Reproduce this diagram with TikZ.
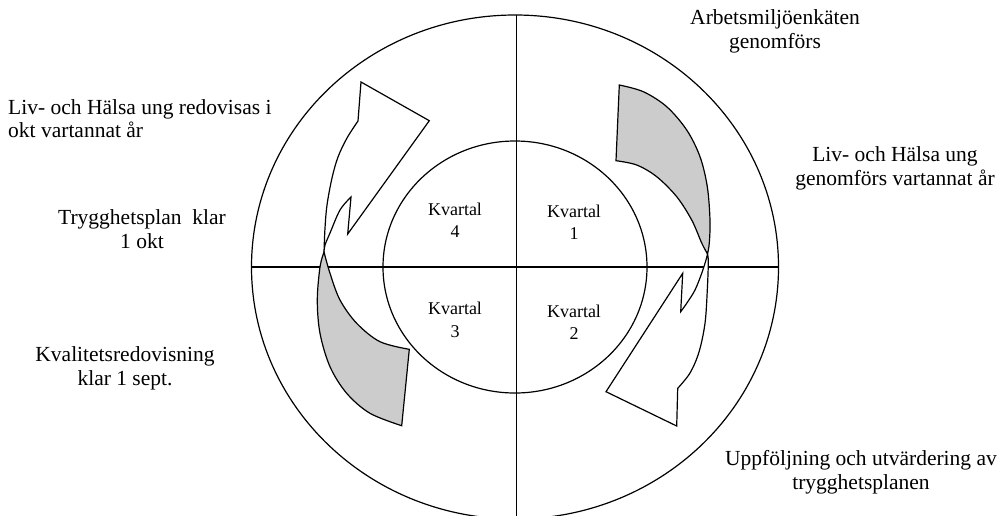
\documentclass[tikz,border=0pt]{standalone}
\usepackage{fontspec}
\setmainfont{Liberation Serif}
\definecolor{bandgray}{gray}{0.8}
\begin{document}
\begin{tikzpicture}[x=1pt,y=-1pt,
  lbl/.style={font=\fontsize{18}{22.5}\selectfont, align=center, inner sep=0pt},
  olbl/.style={font=\fontsize{21.5}{23.5}\selectfont, align=center, inner sep=0pt},
  olbll/.style={font=\fontsize{21.5}{23.5}\selectfont, align=left, inner sep=0pt, anchor=west},
  shp/.style={draw=black, line width=1.2pt, line join=miter},
  arr/.style={shp, fill=white},
  band/.style={shp, fill=bandgray},
  sm/.style={smooth, tension=0.55}]
\useasboundingbox (0,0) rectangle (998,515);
\clip (0,0) rectangle (998,515);
\fill[white] (0,0) rectangle (998,515);
% circles and axes
\draw[shp] (515,267) ellipse [x radius=263.5, y radius=252];
\draw[shp] (515,267) ellipse [x radius=132, y radius=126];
\draw[shp] (516.5,15) -- (516.5,516);
\draw[shp] (251,267) -- (778.5,267);
% Q4 white arrow
\draw[arr] plot[sm] coordinates {(324,252) (325,245) (330,233) (340,210) (351,197)}
  -- (347.7,234) -- (429.3,120.7) -- (361,82) -- (358,121)
  -- plot[sm] coordinates {(358,121) (347,138) (338,157) (332,178) (327,205) (325,228) (324,252)} -- cycle;
% Q3 gray band
\draw[band] plot[sm] coordinates {(324,252) (320,267) (317.3,300) (320,333.3) (330,366.7) (346.7,393.3) (370,413.3) (401.7,425.7)}
  -- (409.3,349.3)
  -- plot[sm] coordinates {(409.3,349.3) (380,341.7) (356.7,323.3) (340,300) (330,273.3) (324,252)} -- cycle;
% Q1 gray band
\draw[band] plot[sm] coordinates {(619.3,85) (643.3,91.7) (666.7,106.7) (686.7,130) (700,156.7) (707.3,186.7) (710,220) (709.3,243) (707.5,254)}
  -- plot[sm] coordinates {(707.5,254) (701.7,243) (691.7,220) (676.7,196.7) (656.7,176.7) (636.7,165) (616,160.7)} -- cycle;
% Q2 white arrow
\draw[arr] plot[sm] coordinates {(707.5,254) (708.3,262) (707.3,290) (705,323.3) (699,352) (690,373) (677.7,388.3)}
  -- (676.7,426) -- (606,391.7) -- (682.7,273.3) -- (680.7,311.7)
  -- plot[sm] coordinates {(680.7,311.7) (686.7,303.3) (695,290) (701.7,273.3) (706,260) (707.5,254)} -- cycle;
% quarter labels
\node[lbl] (k4) at (455,220) {Kvartal\\4};
\node[lbl] (k1) at (574,222) {Kvartal\\1};
\node[lbl] (k3) at (455,320) {Kvartal\\3};
\node[lbl] (k2) at (574,322) {Kvartal\\2};
% outer labels
\node[olbl] (t1) at (775,31.5) {Arbetsmiljöenkäten\\genomförs};
\node[olbl] (t2) at (895,168.5) {Liv- och Hälsa ung\\genomförs vartannat år};
\node[olbll] (t3) at (8,118.5) {Liv- och Hälsa ung redovisas i\\okt vartannat år};
\node[olbl] (t4) at (142,229) {Trygghetsplan\ \ klar\\1 okt};
\node[olbl] (t5) at (125,368.5) {Kvalitetsredovisning\\klar 1 sept.};
\node[olbl] (t6) at (861,472) {Uppföljning och utvärdering av\\trygghetsplanen};
\end{tikzpicture}
\end{document}
